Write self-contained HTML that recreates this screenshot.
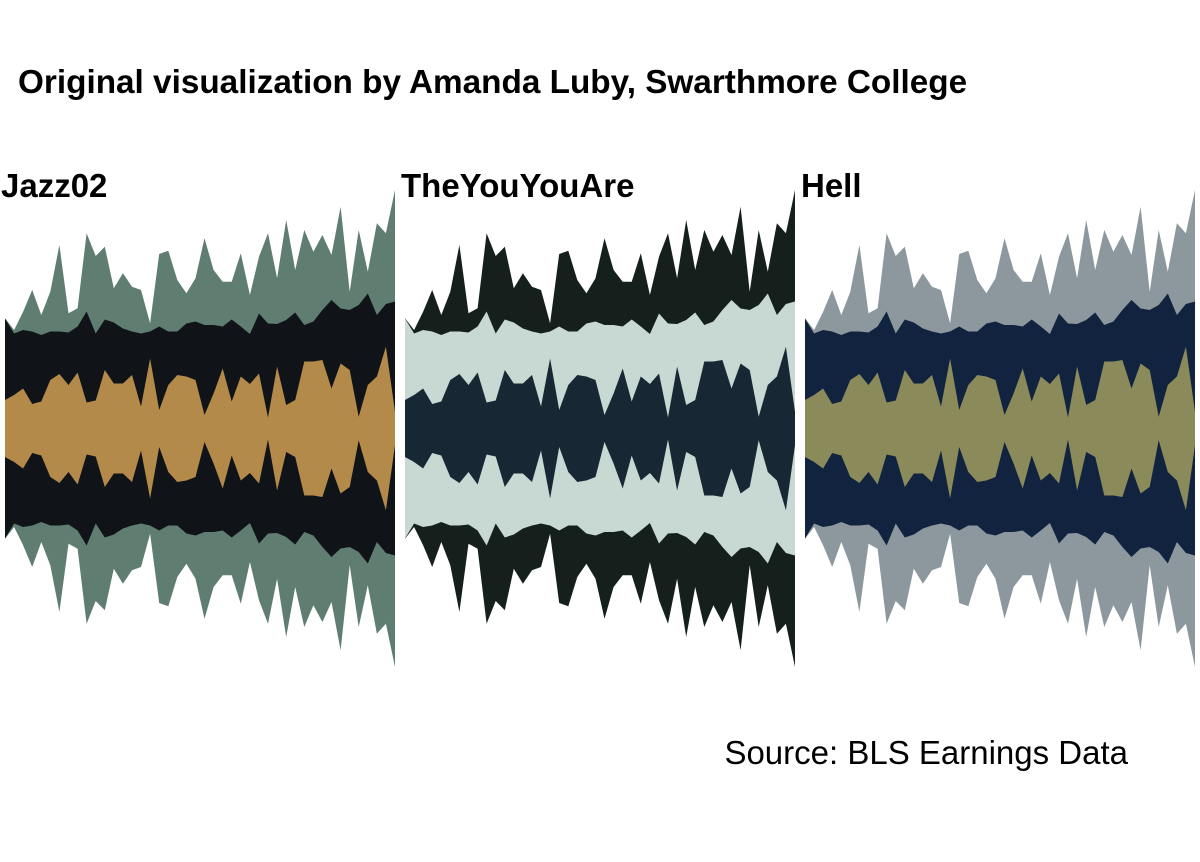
<!DOCTYPE html>
<html><head><meta charset="utf-8"><style>
body{margin:0;background:#fff;width:1200px;height:857px;overflow:hidden;font-family:"Liberation Sans",sans-serif}
</style></head><body>
<svg width="1200" height="857" viewBox="0 0 1200 857">
<text x="18" y="93" font-size="33.3" font-weight="bold" fill="#000">Original visualization by Amanda Luby, Swarthmore College</text>
<g id="panels"></g>
<text x="1128" y="764" text-anchor="end" font-size="33" fill="#000">Source: BLS Earnings Data</text>
</svg>
<script>
// half-widths (px units of value) per time step
const innerVals=[28.5,33.5,40,24.5,27,48.5,54.5,43.5,56,26,28,58.5,45,45,53.5,22,70,18.5,43.5,53.5,52,48.5,13.5,35,60,27,52,44.5,55,11,62,23.5,28.5,67,67,68.5,40,65,58.5,11.8,43.5,52,81.8,16.8];
const middleVals=[110,95,98.5,97,93.5,97,97,96,102,117,95,109,106,100,97,95,97,102,97,97,105,107,103.5,103.5,102,109,102,94.5,115,105,104.5,108.5,116,103.5,107,118.5,128.5,120,118.5,123.5,135,113.5,124.5,127];
const outerVals=[110.2,98.5,116.8,138.5,113.5,136.8,183.5,115.2,120.2,195.2,172.5,181.8,140.2,155.2,141.8,138.5,105.2,174.5,177.8,148.5,135.2,150.2,190.2,158.5,146.8,146.8,175.2,133.5,171.8,195.2,150.2,208.5,158.5,198.5,176.8,193.5,173.5,221.8,136.8,198.5,156.8,205.2,195.2,238.5];
const panelNames=["Jazz02","TheYouYouAre","Hell"];
const panelColors=[["#5f7d70","#101418","#b38a4a"],["#15201c","#c8d8d2","#172834"],["#8c989d","#122340","#8a8a5a"]];
const panelX=[5,405,805], panelW=390, cy=428.5;
const NS="http://www.w3.org/2000/svg";
const g=document.getElementById("panels");
const n=innerVals.length;
function xs(p,i){return panelX[p]+i*panelW/(n-1);}
function band(p,vals){
  let top=[],bot=[];
  for(let i=0;i<n;i++){top.push(xs(p,i).toFixed(1)+","+(cy-vals[i]).toFixed(1));bot.unshift(xs(p,i).toFixed(1)+","+(cy+vals[i]).toFixed(1));}
  return top.concat(bot).join(" ");
}
const layerNames=["outer","middle","inner"];
const layerData=[outerVals,middleVals,innerVals];
panelNames.forEach((name,p)=>{
  const pg=document.createElementNS(NS,"g");
  
  
  g.appendChild(pg);
  const t=document.createElementNS(NS,"text");
  t.setAttribute("x",panelX[p]-4);t.setAttribute("y",197);
  t.setAttribute("font-size","33");t.setAttribute("font-weight","bold");
  t.textContent=name;
  
  
  pg.appendChild(t);
  layerData.forEach((vals,l)=>{
    const poly=document.createElementNS(NS,"polygon");
    poly.setAttribute("points",band(p,vals));
    poly.setAttribute("fill",panelColors[p][l]);
    
    
    pg.appendChild(poly);
  });
});
</script>
</body></html>
